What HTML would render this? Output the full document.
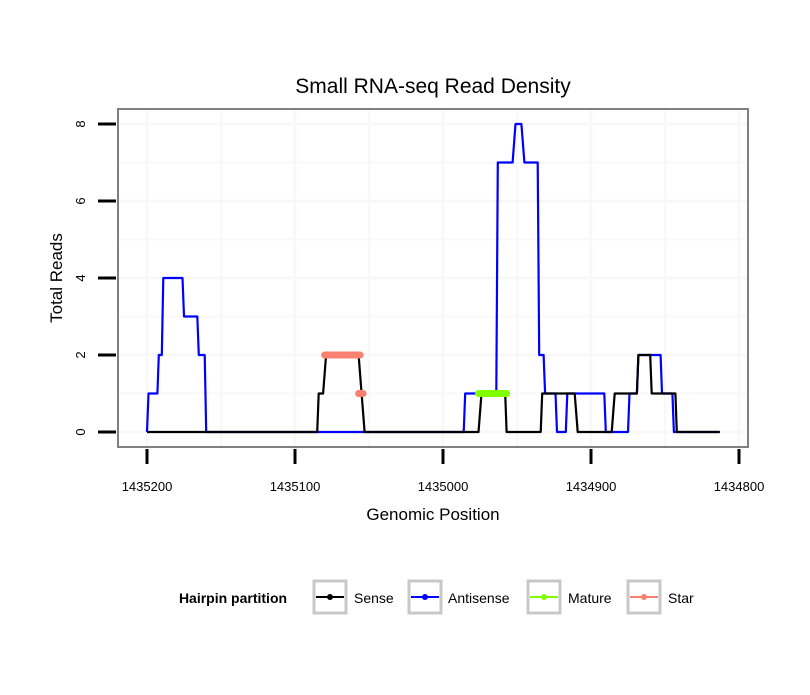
<!DOCTYPE html>
<html><head><meta charset="utf-8"><style>
body{margin:0;background:#fff}
text{font-family:"Liberation Sans",sans-serif}
</style></head><body>
<svg id="chart" width="810" height="690" viewBox="0 0 810 690">
<rect width="810" height="690" fill="#fff"/>
<text x="433" y="93" text-anchor="middle" font-size="21">Small RNA-seq Read Density</text>
<g id="grid"></g>
<g id="series"></g>
<rect x="118" y="109" width="630" height="338" fill="none" stroke="#7f7f7f" stroke-width="2"/>
<g id="axes"></g>
<text x="433" y="520" text-anchor="middle" font-size="17">Genomic Position</text>
<text transform="translate(62,278) rotate(-90)" text-anchor="middle" font-size="17">Total Reads</text>
<g>
<text x="233" y="603" text-anchor="middle" font-size="14" font-weight="bold">Hairpin partition</text>
<g><rect x="314" y="581" width="32" height="32" fill="#fff" stroke="#c8c8c8" stroke-width="3"/><line x1="316" y1="597" x2="344" y2="597" stroke="#000" stroke-width="2"/><circle cx="330" cy="597" r="3" fill="#000"/><text x="354" y="603" font-size="14">Sense</text></g>
<g><rect x="409" y="581" width="32" height="32" fill="#fff" stroke="#c8c8c8" stroke-width="3"/><line x1="411" y1="597" x2="439" y2="597" stroke="#0000ff" stroke-width="2"/><circle cx="425" cy="597" r="3" fill="#0000ff"/><text x="448" y="603" font-size="14">Antisense</text></g>
<g><rect x="528" y="581" width="32" height="32" fill="#fff" stroke="#c8c8c8" stroke-width="3"/><line x1="530" y1="597" x2="558" y2="597" stroke="#7fff00" stroke-width="2"/><circle cx="544" cy="597" r="3" fill="#7fff00"/><text x="568" y="603" font-size="14">Mature</text></g>
<g><rect x="628" y="581" width="32" height="32" fill="#fff" stroke="#c8c8c8" stroke-width="3"/><line x1="630" y1="597" x2="658" y2="597" stroke="#fa8072" stroke-width="2"/><circle cx="644" cy="597" r="3" fill="#fa8072"/><text x="668" y="603" font-size="14">Star</text></g>
</g>
</svg>
<script>
const xTicks=[1435200,1435100,1435000,1434900,1434800];
const yTicks=[0,2,4,6,8];
const antisensePos=[1435200,1435199,1435193,1435192,1435190,1435189,1435176,1435175,1435166,1435165,1435161,1435160,1434986,1434985,1434964,1434963,1434953,1434951,1434947,1434945,1434936,1434935,1434932,1434931,1434924,1434923,1434917,1434916,1434891,1434890,1434875,1434874,1434869,1434868,1434853,1434852,1434845,1434844,1434813];
const antisenseVal=[0,1,1,2,2,4,4,3,3,2,2,0,0,1,1,7,7,8,8,7,7,2,2,1,1,0,0,1,1,0,0,1,1,2,2,1,1,0,0];
const sensePos=[1435200,1435085,1435084,1435081,1435079,1435057,1435055,1435053,1434976,1434974,1434958,1434957,1434934,1434933,1434911,1434909,1434886,1434884,1434869,1434868,1434860,1434859,1434843,1434842,1434813];
const senseVal=[0,0,1,1,2,2,1,0,0,1,1,0,0,1,1,0,0,1,1,2,2,1,1,0,0];
const maturePos=[1434976,1434957];
const matureVal=[1,1];
const starPos=[1435080,1435056];
const starVal=[2,2];
const star2Pos=[1435057,1435054];
const star2Val=[1,1];
const NS='http://www.w3.org/2000/svg';
const X=p=>147+(1435200-p)*1.48;
const Y=v=>432-v*38.5;
function mk(tag,attrs,parent){const e=document.createElementNS(NS,tag);for(const k in attrs)e.setAttribute(k,attrs[k]);parent.appendChild(e);return e;}
const grid=document.getElementById('grid'),axes=document.getElementById('axes'),series=document.getElementById('series');
mk('rect',{x:118,y:109,width:630,height:338,fill:'#fff'},grid);
for(let i=0;i<xTicks.length;i++){
  const x=X(xTicks[i]);
  if(i<xTicks.length-1){const gl=mk('line',{x1:X(xTicks[i]-50),x2:X(xTicks[i]-50),y1:109,y2:447,stroke:'#f8f8f8','stroke-width':2},grid);
  
  }
  const g=mk('line',{x1:x,x2:x,y1:109,y2:447,stroke:'#f8f8f8','stroke-width':3},grid);
  
  
  const t=mk('line',{x1:x,x2:x,y1:449,y2:464,stroke:'#000','stroke-width':3},axes);
  
  
  const l=mk('text',{x:x,y:491,'text-anchor':'middle','font-size':13},axes);
  l.textContent=xTicks[i];
  
  
}
for(let i=0;i<yTicks.length;i++){
  const y=Y(yTicks[i]);
  if(i<yTicks.length-1){const gm=mk('line',{x1:118,x2:748,y1:Y(yTicks[i]+1),y2:Y(yTicks[i]+1),stroke:'#f8f8f8','stroke-width':2},grid);
  
  }
  const g=mk('line',{x1:118,x2:748,y1:y,y2:y,stroke:'#f8f8f8','stroke-width':3},grid);
  
  
  const t=mk('line',{x1:98,x2:116,y1:y,y2:y,stroke:'#000','stroke-width':3},axes);
  
  
  const l=mk('text',{transform:`translate(85,${y}) rotate(-90)`,'text-anchor':'middle','font-size':13},axes);
  l.textContent=yTicks[i];
  
  
}
function line(pos,val,color,w,name,cap){
  const d=pos.map((p,i)=>(i?'L':'M')+X(p).toFixed(1)+','+Y(val[i]).toFixed(1)).join('');
  const e=mk('path',{d:d,fill:'none',stroke:color,'stroke-width':w,'stroke-linejoin':'round','stroke-linecap':cap||'butt'},series);
  
  
}
line(antisensePos,antisenseVal,'#0000ff',2.2,'antisense-line');
line(sensePos,senseVal,'#000',2.2,'sense-line');
line(maturePos,matureVal,'#7fff00',7,'mature-line','round');
line(starPos,starVal,'#fa8072',7,'star-line','round');
line(star2Pos,star2Val,'#fa8072',7,'star-line-2','round');
</script>
</body></html>
